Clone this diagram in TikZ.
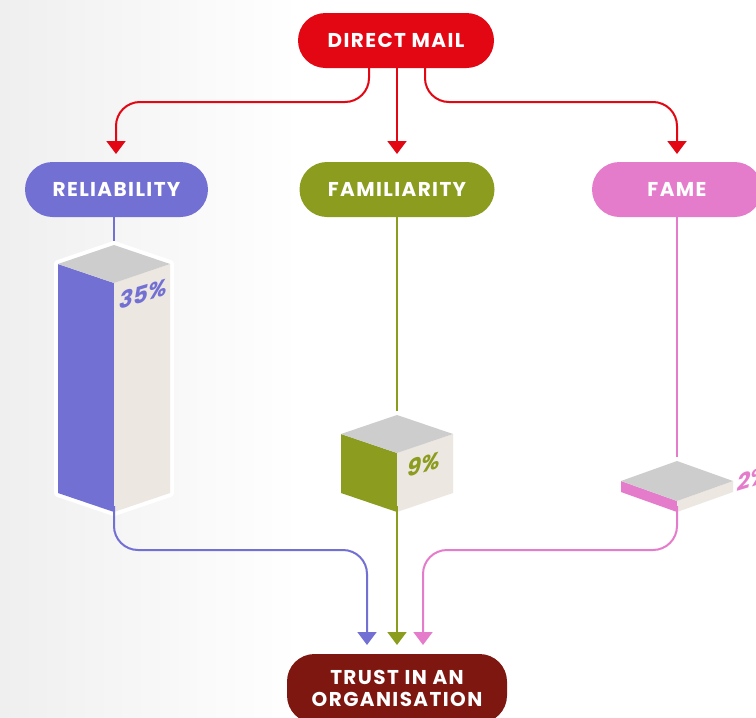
\documentclass[tikz,border=0pt]{standalone}
\usepackage{fontspec}
\setmainfont{Poppins}
\usetikzlibrary{arrows.meta}
\definecolor{dmred}{HTML}{E30613}
\definecolor{relblue}{HTML}{7370D4}
\definecolor{famolive}{HTML}{8C9C1E}
\definecolor{fampink}{HTML}{E57CCB}
\definecolor{trustred}{HTML}{7D1710}
\definecolor{topgray}{HTML}{CDCDCD}
\definecolor{sidebeige}{HTML}{EDE7E2}
\definecolor{bggray}{HTML}{EFEFEF}
\newcommand\pillfont{\fontsize{20}{22}\selectfont\bfseries\addfontfeatures{LetterSpace=7}}
\newcommand\pctfont{\fontsize{23}{24}\selectfont\bfseries\itshape}
% #1 cx, #2 top y, #3 diamond half height, #4 half width, #5 height, #6 colour, #7 name
\newcommand\isobox[7]{%
  \pgfmathsetmacro\bxL{#1-#4}\pgfmathsetmacro\bxR{#1+#4}%
  \pgfmathsetmacro\byA{#2+#3}\pgfmathsetmacro\byB{#2+2*#3}%
  \pgfmathsetmacro\byC{#2+#3+#5}\pgfmathsetmacro\byD{#2+2*#3+#5}%
  \coordinate (#7top) at (#1,#2);
  \coordinate (#7bot) at (#1,\byD);
  \draw[white, line width=8pt, line join=round, fill=white]
    (#1,#2) -- (\bxR,\byA) -- (\bxR,\byC) -- (#1,\byD) -- (\bxL,\byC) -- (\bxL,\byA) -- cycle;
  \fill[#6] (\bxL,\byA) -- (#1,\byB) -- (#1,\byD) -- (\bxL,\byC) -- cycle;
  \fill[sidebeige] (#1,\byB) -- (\bxR,\byA) -- (\bxR,\byC) -- (#1,\byD) -- cycle;
  \fill[topgray] (#1,#2) -- (\bxR,\byA) -- (#1,\byB) -- (\bxL,\byA) -- cycle;
}
\begin{document}
\begin{tikzpicture}[x=1pt,y=-1pt,
  pill/.style={rectangle, rounded corners=27.5pt, minimum height=55pt,
    text=white, font=\pillfont, inner sep=0pt, align=center},
  conn/.style={line width=2pt, rounded corners=24pt},
  tip/.style={-{Triangle[width=19pt,length=13pt]}},
  pct/.style={font=\pctfont, yslant=0.3, inner sep=0pt}]
\useasboundingbox (0,0) rectangle (756,718);
\clip (0,0) rectangle (756,718);
\shade[left color=bggray, right color=white] (0,0) rectangle (300,718);
\fill[white] (300,0) rectangle (756,718);

% nodes
\node[pill, fill=dmred, minimum width=196pt] (dm) at (396,40.5) {DIRECT MAIL};
\node[pill, fill=relblue, minimum width=183pt] (rel) at (116.5,189.5) {RELIABILITY};
\node[pill, fill=famolive, minimum width=195pt] (fam) at (397,189.5) {FAMILIARITY};
\node[pill, fill=fampink, minimum width=170pt] (fame) at (677,189.5) {FAME};
\node[pill, fill=trustred, minimum width=220pt, minimum height=69pt]
  (trust) at (397,688.5) {TRUST IN AN\\ORGANISATION};

% connectors from direct mail
\draw[conn, tip, dmred] (dm.south -| 369,0) -- (369,102) -- (116,102) -- (116,154);
\draw[conn, tip, dmred] (dm.south -| 397,0) -- (397,154);
\draw[conn, tip, dmred] (dm.south -| 425,0) -- (425,102) -- (677,102) -- (677,154);

% lines from category nodes to the boxes
\draw[line width=2pt, relblue] (rel.south -| 114,0) -- (114,250);
\draw[line width=2pt, famolive] (fam.south -| 397,0) -- (397,420);
\draw[line width=2pt, fampink] (fame.south -| 677,0) -- (677,462);

% boxes
\isobox{114}{245}{19}{56}{229}{relblue}{r}
\isobox{397}{415}{19}{56}{59}{famolive}{f}
\isobox{677}{461}{20}{56}{11}{fampink}{p}

% percentages
\node[pct, text=relblue] (p35) at (143.5,294) {35\%};
\node[pct, text=famolive] (p9) at (423.5,464) {9\%};
\node[pct, text=fampink, anchor=west] (p2) at (737,483) {2\%};

% connectors down to trust
\draw[conn, tip, relblue] ([yshift=6pt]rbot) -- (114,550) -- (367,550) -- (367,645);
\draw[conn, tip, famolive] ([yshift=6pt]fbot) -- (397,645);
\draw[conn, tip, fampink] ([yshift=6pt]pbot) -- (677,550) -- (423,550) -- (423,645);
\end{tikzpicture}
\end{document}
